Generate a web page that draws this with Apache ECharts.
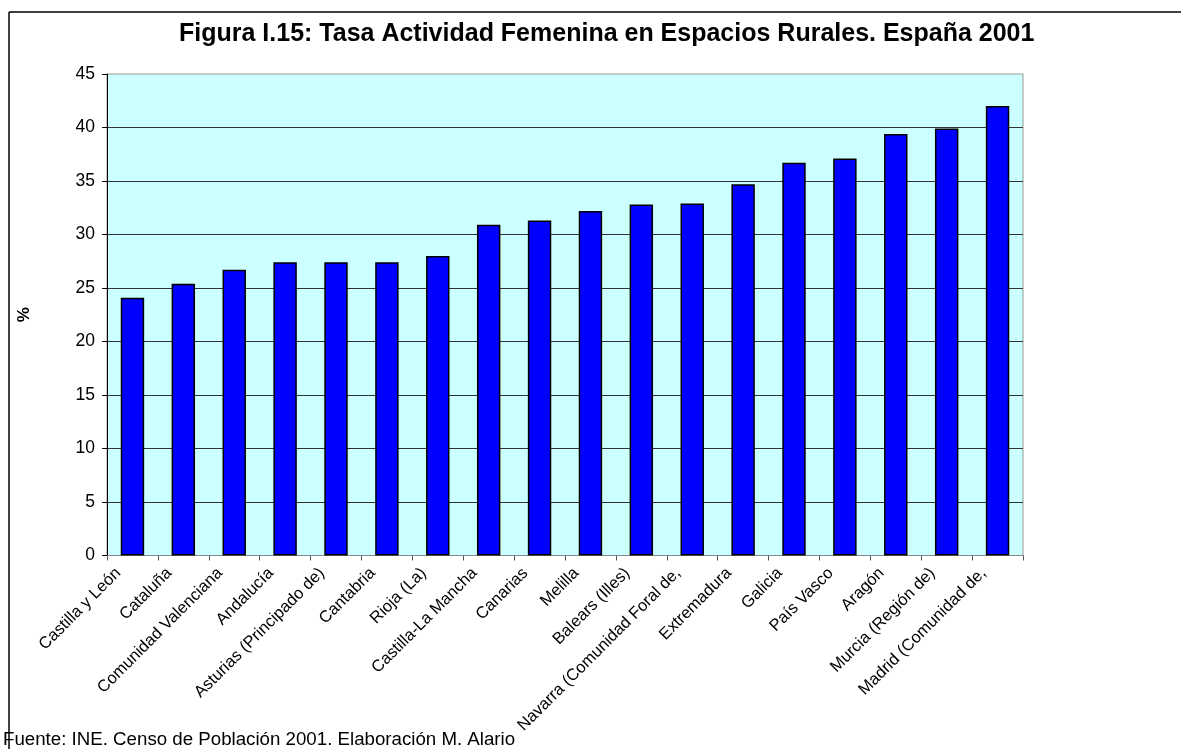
<!DOCTYPE html>
<html><head><meta charset="utf-8">
<script src="https://cdn.jsdelivr.net/npm/echarts@6/dist/echarts.min.js"></script>
<style>html,body{margin:0;padding:0;background:#fff}#c{width:1181px;height:749px}</style>
</head><body><div id="c"></div>
<script>
const categories = ["Castilla y León","Cataluña","Comunidad Valenciana","Andalucía","Asturias (Principado de)","Cantabria","Rioja (La)","Castilla-La Mancha","Canarias","Melilla","Balears (Illes)","Navarra (Comunidad Foral de)","Extremadura","Galicia","País Vasco","Aragón","Murcia (Región de)","Madrid (Comunidad de)"];
const labelTexts = ["Castilla y León","Cataluña","Comunidad Valenciana","Andalucía","Asturias (Principado de)","Cantabria","Rioja (La)","Castilla-La Mancha","Canarias","Melilla","Balears (Illes)","Navarra (Comunidad Foral de,","Extremadura","Galicia","País Vasco","Aragón","Murcia (Región de)","Madrid (Comunidad de,"];
const values = [24.1,25.4,26.7,27.4,27.4,27.4,28.0,30.9,31.3,32.2,32.8,32.9,34.7,36.7,37.1,39.4,39.9,42.0];
const titleText = "Figura I.15: Tasa Actividad Femenina en Espacios Rurales. España 2001";
const sourceText = "Fuente: INE. Censo de Población 2001. Elaboración M. Alario";
const yName = "%";

const chart = echarts.init(document.getElementById('c'));
chart.setOption({
  backgroundColor: '#fff',
  animation: false,
  title: {
    text: titleText, left: 174, top: 17,
    textStyle: {fontFamily: 'Liberation Sans, Arial', fontWeight: 'bold', fontSize: 25, color: '#000'}
  },
  grid: {left: 107, right: 158, top: 74, bottom: 193.5, show: true, backgroundColor: '#CCFFFF', borderColor: '#999', borderWidth: 1},
  xAxis: {
    type: 'category', data: categories,
    axisLine: {lineStyle: {color: '#888', width: 1}},
    axisTick: {show: true, length: 5, lineStyle: {color: '#555'}},
    axisLabel: {interval: 0, rotate: 45, margin: 1, padding: [0, 20, 0, 0], fontFamily: 'Liberation Sans, Arial', fontSize: 16.5, color: '#000',
      formatter: (v, i) => labelTexts[i]}
  },
  yAxis: {
    type: 'value', min: 0, max: 45, interval: 5,
    name: yName, nameLocation: 'middle', nameGap: 74, nameRotate: 90,
    nameTextStyle: {fontFamily: 'Liberation Sans, Arial', fontWeight: 'bold', fontSize: 17, color: '#000'},
    axisLine: {show: true, lineStyle: {color: '#000', width: 1}},
    axisTick: {show: true, length: 5, lineStyle: {color: '#000'}},
    axisLabel: {fontFamily: 'Liberation Sans, Arial', fontSize: 17.5, color: '#000', margin: 12},
    splitLine: {show: true, showMaxLine: false, lineStyle: {color: '#333', width: 1}}
  },
  series: [{
    type: 'bar', data: values, barCategoryGap: '54%',
    itemStyle: {color: '#0000FF', borderColor: '#000', borderWidth: 1.5}
  }],
  graphic: [
    {type: 'line', shape: {x1: 9, y1: 12, x2: 1181, y2: 12}, style: {stroke: '#000', lineWidth: 1.5}},
    {type: 'line', shape: {x1: 9, y1: 12, x2: 9, y2: 749}, style: {stroke: '#000', lineWidth: 1.5}},
    {type: 'text', left: 3, top: 730, style: {text: sourceText, font: '18.7px "Liberation Sans", Arial', fill: '#000'}}
  ]
});
</script></body></html>
